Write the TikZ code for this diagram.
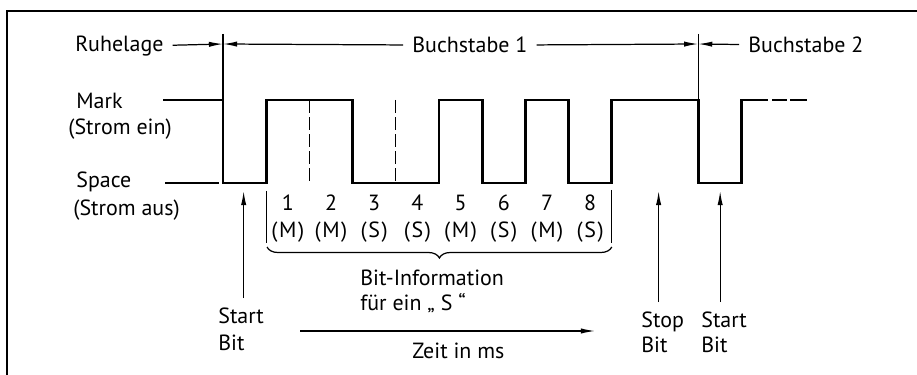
\documentclass[tikz,border=0pt]{standalone}
\usepackage{fontspec}
\setmainfont{PT Sans}
\usetikzlibrary{arrows.meta,decorations.pathreplacing}

\begin{document}
\begin{tikzpicture}[x=0.02cm,y=-0.02cm,line join=miter,
  txt/.style={inner sep=2pt,font=\fontsize{12.5}{15}\selectfont},
  pfeil/.style={line width=0.7pt,-{Latex[length=8pt,width=3pt]}},
  mass/.style={pfeil,shorten <=3pt},
  signal/.style={line width=1.7pt},
  duenn/.style={line width=0.7pt},
  strich/.style={line width=0.7pt,dash pattern=on 7.4pt off 2.3pt}]
\useasboundingbox (0,0) rectangle (917,375);
% Rahmen
\draw[line width=1.1pt] (7,375)--(7,11)--(917,11);
% Bemassung oben
\coordinate (v1) at (223,44);
\coordinate (v2) at (698.2,44);
\coordinate (oben) at (0,191);
\draw[duenn] (223,34)--(223,100);
\draw[duenn] (698.2,34)--(698.2,100);
\node[txt,anchor=base west] (ruhe) at (71.5,52) {Ruhelage};
\node[txt,anchor=base west] (bs1) at (408.5,53) {Buchstabe 1};
\node[txt,anchor=base west] (bs2) at (744.5,53) {Buchstabe 2};
\draw[mass] (ruhe) -- (v1);
\draw[mass] (bs1) -- (v1);
\draw[mass] (bs1) -- (v2);
\draw[mass] (bs2) -- (v2);
% Pegel
\node[txt,anchor=base west] (mark) at (72.5,109) {Mark};
\node[txt,anchor=base west] (ein) at (64.5,135) {(Strom ein)};
\node[txt,anchor=base west] (space) at (72.5,188) {Space};
\node[txt,anchor=base west] (aus) at (69.5,215) {(Strom aus)};
\draw[duenn] (165,183)--(219,183);
% Signal
\draw[signal] (163,100)--(223,100)--(223,183)--(266.2,183)--(266.2,100)
  --(352.6,100)--(352.6,183)--(439,183)--(439,100)--(482.2,100)--(482.2,183)
  --(525.4,183)--(525.4,100)--(568.6,100)--(568.6,183)--(611.8,183)--(611.8,100)
  --(698.2,100)--(698.2,183)--(741.4,183)--(741.4,100)--(768,100);
\draw[signal] (772,100)--(787,100) (790,100)--(807,100);
\draw[strich] (309.4,100)--(309.4,185);
\draw[strich] (395.8,100)--(395.8,184);
% Bits
\foreach \i/\w [count=\k from 0] in {1/M,2/M,3/S,4/S,5/M,6/S,7/M,8/S}
{
  \node[txt,anchor=base] (b\i) at (287.8+43.2*\k,211) {\i};
  \node[txt,anchor=base] (w\i) at (287.8+43.2*\k,237) {(\kern0.9pt\w\kern0.9pt)};
}
\draw[duenn] (266.2,191)--(266.2,243);
\draw[duenn] (611.8,190)--(611.8,243);
\draw[duenn,decorate,decoration={brace,amplitude=0.22cm}] (611.8,247)--(267,247);
\node[txt,anchor=base west] (info1) at (356.5,285) {Bit-Information};
\node[txt,anchor=base west] (info2) at (356.5,310) {für ein „ S “};
% Zeitachse
\coordinate (z0) at (300,331);
\coordinate (z1) at (595,331);
\draw[pfeil] (z0) -- (z1);
\node[txt,anchor=base west] (zeit) at (408.5,358) {Zeit in ms};
% Start-/Stopbits
\node[txt,anchor=base west] (startA) at (214.5,323) {Start};
\node[txt,anchor=base west] (bitA) at (214.5,350) {Bit};
\node[txt,anchor=base west] (stopB) at (637.5,327) {Stop};
\node[txt,anchor=base west] (bitB) at (637.5,352) {Bit};
\node[txt,anchor=base west] (startC) at (697.5,327) {Start};
\node[txt,anchor=base west] (bitC) at (697.5,352) {Bit};
\draw[pfeil,shorten <=3pt] ([xshift=2.5*0.02cm]startA.north) -- ([xshift=2.5*0.02cm]startA.north |- oben);
\draw[pfeil,shorten <=3pt] ([xshift=-4*0.02cm]stopB.north) -- ([xshift=-4*0.02cm]stopB.north |- oben);
\draw[pfeil,shorten <=3pt] ([xshift=-4*0.02cm]startC.north) -- ([xshift=-4*0.02cm]startC.north |- oben);
\end{tikzpicture}
\end{document}
